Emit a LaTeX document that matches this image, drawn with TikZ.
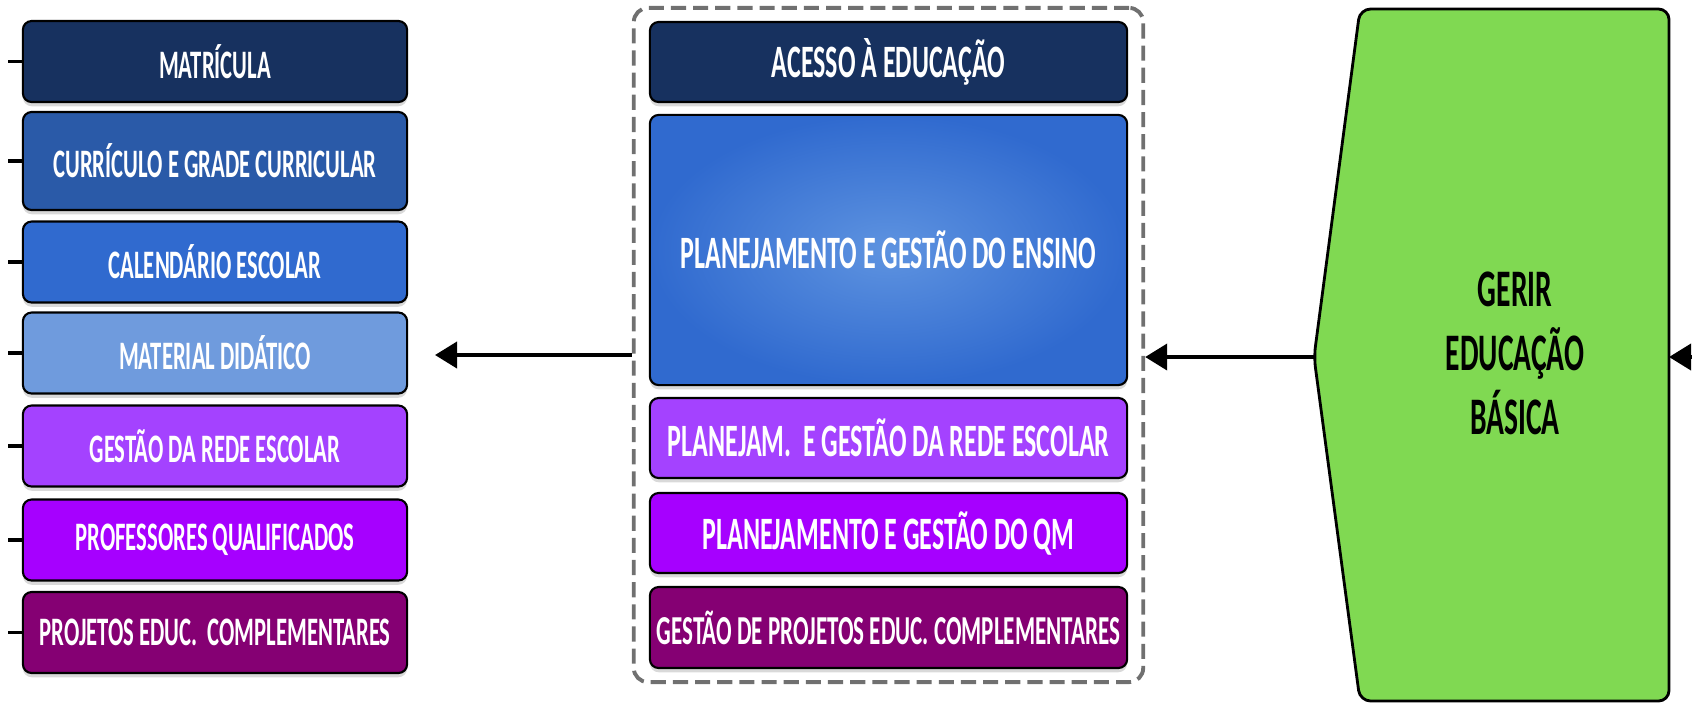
\documentclass[tikz,border=0pt]{standalone}
\usepackage{fontspec}
\newfontfamily\lblfont[FakeStretch=0.56]{Carlito}
\usetikzlibrary{arrows.meta,fit,shadows}

\definecolor{navy}{HTML}{17315F}
\definecolor{midblue}{HTML}{2A5AA8}
\definecolor{calblue}{HTML}{306ACF}
\definecolor{lightblue}{HTML}{6F9BDD}
\definecolor{lilac}{HTML}{A442FF}
\definecolor{violet}{HTML}{A600FF}
\definecolor{plum}{HTML}{850073}
\definecolor{glow}{HTML}{5E93E0}
\definecolor{gerirgreen}{HTML}{80D952}
\definecolor{dashgray}{HTML}{707070}

\tikzset{
  box/.style={draw=black, line width=0.6pt, rounded corners=2.5pt, text=white, inner sep=0pt,
    drop shadow={opacity=0.3, shadow xshift=0pt, shadow yshift=-1.2pt}},
  lbox/.style={box, minimum width=3.84cm, minimum height=0.81cm,
    font=\lblfont\bfseries\fontsize{11.5}{13}\selectfont},
  mbox/.style={box, minimum width=4.77cm, minimum height=0.80cm,
    font=\lblfont\bfseries\fontsize{13.2}{15}\selectfont},
  tick/.style={line width=1pt},
  arr/.style={line width=1.1pt, -{Triangle[length=0.22cm,width=0.26cm]}},
  group/.style={draw=dashgray, line width=1.1pt, dash pattern=on 4.3pt off 2pt, rounded corners=4pt}
}

\begin{document}
\begin{tikzpicture}[x=0.01cm, y=-0.01cm]
\useasboundingbox (0,0) rectangle (1692,705);

\node[lbox, fill=navy] (mat) at (215,61.5) {MATRÍCULA};
\node[lbox, fill=midblue, minimum height=0.98cm] (cur) at (215,161) {CURRÍCULO E GRADE CURRICULAR};
\node[lbox, fill=calblue] (cal) at (215,262) {CALENDÁRIO ESCOLAR};
\node[lbox, fill=lightblue] (mdid) at (215,353) {MATERIAL DIDÁTICO};
\node[lbox, fill=lilac] (grede) at (215,446) {GESTÃO DA REDE ESCOLAR};
\node[lbox, fill=violet] (prof) at (215,540) {PROFESSORES QUALIFICADOS};
\node[lbox, fill=plum] (proj) at (215,632.5) {PROJETOS EDUC.\ \ COMPLEMENTARES};

\foreach \n in {mat,cur,cal,mdid,grede,prof,proj}
    \draw[tick] (\n.west) -- ++(-14,0);

\node[mbox, fill=navy] (acc) at (888.5,62) {ACESSO À EDUCAÇÃO};
\node[mbox, minimum height=2.70cm, inner color=glow, outer color=calblue, draw=black] (ens) at (888.5,250) {PLANEJAMENTO E GESTÃO DO ENSINO};
\node[mbox, fill=lilac] (prede) at (888.5,438) {PLANEJAM.\ \ E GESTÃO DA REDE ESCOLAR};
\node[mbox, fill=violet] (pqm) at (888.5,533) {PLANEJAMENTO E GESTÃO DO QM};
\node[mbox, fill=plum, minimum height=0.81cm, font=\lblfont\bfseries\fontsize{11.7}{14}\selectfont] (gproj) at (888.5,627.5) {GESTÃO DE PROJETOS EDUC. COMPLEMENTARES};

\node[group, fit=(acc)(gproj), inner xsep=0.15cm, inner ysep=0.13cm] (grp) {};

\coordinate (gtip) at (1314,357);
\coordinate (gright) at (1669,357);
\coordinate (rin) at (1692,357);
\coordinate (lout) at (435,355);

\draw[fill=gerirgreen, line width=0.8pt, rounded corners=3pt]
    (gtip) -- (1360,9) -- (1669,9) -- (1669,701) -- (1360,701) -- cycle;
\node[font=\lblfont\bfseries\fontsize{15}{18.2}\selectfont, align=center] (gerir) at (1515,353)
    {GERIR\\EDUCAÇÃO\\BÁSICA};

\draw[arr] (gtip) -- (gtip -| grp.east);
\draw[arr] (lout -| grp.west) -- (lout);
\draw[arr] (rin) -- (gright);
\end{tikzpicture}
\end{document}
